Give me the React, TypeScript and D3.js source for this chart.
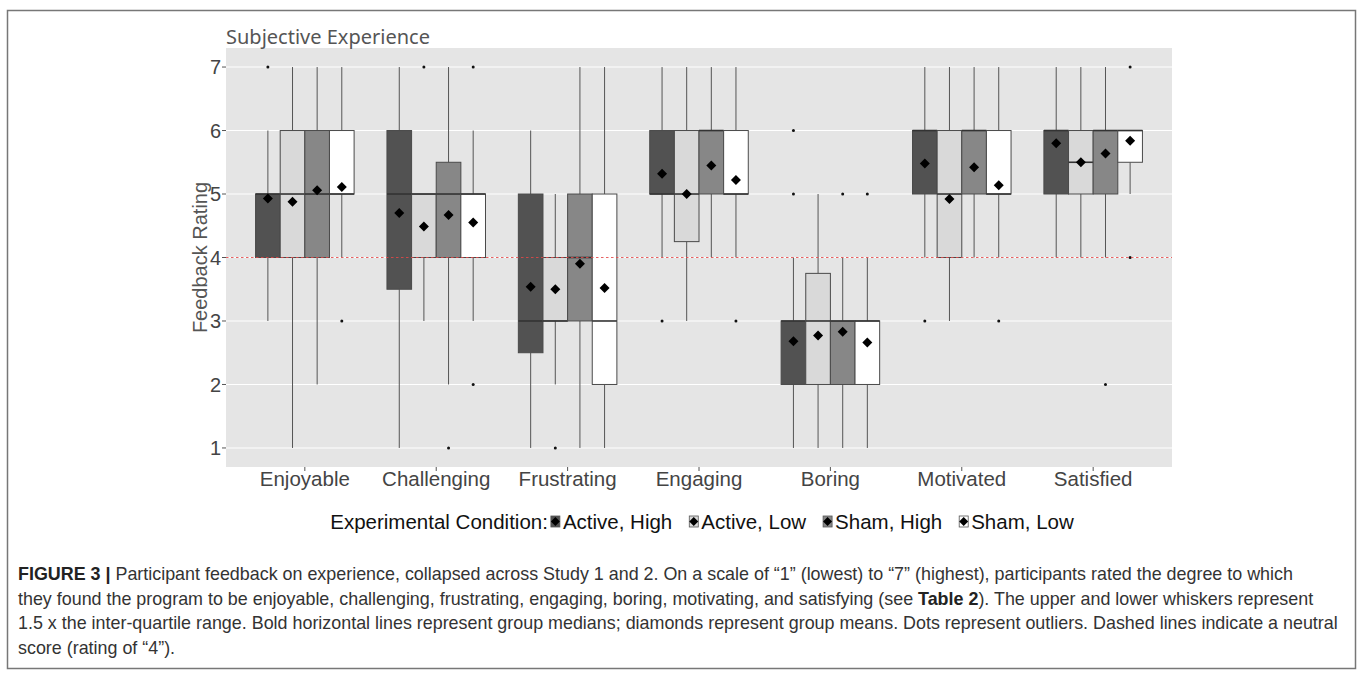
import React from "react";
import * as d3 from "d3";

const categories = ["Enjoyable", "Challenging", "Frustrating", "Engaging", "Boring", "Motivated", "Satisfied"];
const conditions = ["Active, High", "Active, Low", "Sham, High", "Sham, Low"];
const yTicks = [1, 2, 3, 4, 5, 6, 7];
const neutralScore = 4;

// rows = conditions, columns = categories
const whiskerLow = [
  [3, 1, 1, 4, 1, 4, 4],
  [1, 3, 2, 3, 1, 3, 4],
  [2, 2, 1, 4, 1, 4, 4],
  [4, 3, 1, 4, 1, 4, 5],
];
const q1 = [
  [4, 3.5, 2.5, 5, 2, 5, 5],
  [4, 4, 3, 4.25, 2, 4, 5],
  [4, 4, 3, 5, 2, 5, 5],
  [5, 4, 2, 5, 2, 5, 5.5],
];
const medians = [
  [5, 5, 3, 5, 3, 6, 6],
  [5, 5, 3, 5, 3, 5, 5.5],
  [5, 5, 4, 6, 3, 6, 6],
  [5, 5, 3, 5, 3, 5, 6],
];
const q3 = [
  [5, 6, 5, 6, 3, 6, 6],
  [6, 5, 4, 6, 3.75, 6, 6],
  [6, 5.5, 5, 6, 3, 6, 6],
  [6, 5, 5, 6, 3, 6, 6],
];
const whiskerHigh = [
  [6, 7, 6, 7, 4, 7, 7],
  [7, 5, 5, 7, 5, 7, 7],
  [7, 7, 7, 7, 4, 7, 7],
  [7, 6, 7, 7, 4, 7, 6],
];
const means = [
  [4.93, 4.7, 3.54, 5.32, 2.68, 5.48, 5.8],
  [4.88, 4.49, 3.5, 5.0, 2.77, 4.92, 5.5],
  [5.06, 4.67, 3.9, 5.45, 2.83, 5.42, 5.64],
  [5.11, 4.55, 3.52, 5.22, 2.66, 5.14, 5.84],
];
const outliers = [
  [[7], [], [], [3], [5, 6], [3], []],
  [[], [7], [1], [], [], [], []],
  [[], [1], [], [], [5], [], [2]],
  [[3], [2, 7], [], [3], [5], [3], [4, 7]],
];

const fills = ["#525252", "#d9d9d9", "#878787", "#ffffff"];

const captionLines = [
  [
    { t: "FIGURE 3 | ", b: true },
    { t: "Participant feedback on experience, collapsed across Study 1 and 2. On a scale of \u201c1\u201d (lowest) to \u201c7\u201d (highest), participants rated the degree to which", b: false },
  ],
  [
    { t: "they found the program to be enjoyable, challenging, frustrating, engaging, boring, motivating, and satisfying (see ", b: false },
    { t: "Table 2", b: true },
    { t: "). The upper and lower whiskers represent", b: false },
  ],
  [
    { t: "1.5 x the inter-quartile range. Bold horizontal lines represent group medians; diamonds represent group means. Dots represent outliers. Dashed lines indicate a neutral", b: false },
  ],
  [{ t: "score (rating of \u201c4\u201d).", b: false }],
];

const W = 1357;
const H = 677;
const panel = { left: 226, right: 1172, top: 48, bottom: 467 };
const axisFont = "Liberation Sans, Arial, sans-serif";

let ctx: CanvasRenderingContext2D | null = null;
function measure(text: string, font: string): number {
  if (!ctx) ctx = document.createElement("canvas").getContext("2d");
  if (!ctx) return text.length * 10;
  ctx.font = font;
  return ctx.measureText(text).width;
}

function diamond(cx: number, cy: number, r: number) {
  return `M${cx},${cy - r}L${cx + r},${cy}L${cx},${cy + r}L${cx - r},${cy}Z`;
}

export default function App() {
  const x = d3.scalePoint<string>().domain(categories).range([panel.left, panel.right]).padding(0.6);
  const step = x.step();
  const dodge = step * 0.75;
  const xg = d3.scaleBand<string>().domain(conditions).range([-dodge / 2, dodge / 2]);
  const bw = xg.bandwidth();
  const y = d3.scaleLinear().domain([0.7, 7.3]).range([panel.bottom, panel.top]);

  // legend layout
  const legFontSize = 20.5;
  const legFont = `${legFontSize}px Liberation Sans`;
  const legTitle = "Experimental Condition:";
  const keyW = 9;
  const entryGap = 17;
  const titleW = measure(legTitle, legFont);
  const entryW = conditions.map((c) => measure(c, legFont));
  const totalW = titleW + 3 + entryW.reduce((s, w) => s + keyW + 3 + w, 0) + entryGap * (conditions.length - 1);
  const legStart = (panel.left + panel.right) / 2 - totalW / 2 + 3;
  let cursor = legStart + titleW + 3;
  const legItems = conditions.map((c, i) => {
    const item = { keyX: cursor, textX: cursor + keyW + 3, c, i };
    cursor += keyW + 3 + entryW[i] + entryGap;
    return item;
  });
  const legY = 529;

  return (
    <svg width={W} height={H} style={{ position: "absolute", left: 0, top: 0, background: "#fff" }}>
      <rect x={7.5} y={10.5} width={1348} height={658} fill="#fff" stroke="#777" strokeWidth={1.5} />
      {/* panel */}
      <rect x={panel.left} y={panel.top} width={panel.right - panel.left} height={panel.bottom - panel.top} fill="#e5e5e5" />
      {yTicks.map((t) => (
        <line key={"g" + t} x1={panel.left} x2={panel.right} y1={y(t)} y2={y(t)} stroke="#fff" strokeWidth={1.1} />
      ))}
      {/* boxplots */}
      {conditions.map((cond, gi) => (
        <g key={cond}>
          {categories.map((cat, ci) => {
            const cx = (x(cat) as number) + (xg(cond) as number) + bw / 2;
            const x0 = cx - bw / 2;
            return (
              <g key={cat}>
                <line x1={cx} x2={cx} y1={y(q3[gi][ci])} y2={y(whiskerHigh[gi][ci])} stroke="#555" strokeWidth={1} />
                <line x1={cx} x2={cx} y1={y(q1[gi][ci])} y2={y(whiskerLow[gi][ci])} stroke="#555" strokeWidth={1} />
                <rect
                  x={x0}
                  y={y(q3[gi][ci])}
                  width={bw}
                  height={Math.max(0, y(q1[gi][ci]) - y(q3[gi][ci]))}
                  fill={fills[gi]}
                  stroke="#4a4a4a"
                  strokeWidth={1}
                />
                <line x1={x0} x2={x0 + bw} y1={y(medians[gi][ci])} y2={y(medians[gi][ci])} stroke="#333" strokeWidth={1.6} />
                {outliers[gi][ci].map((o, k) => (
                  <circle key={k} cx={cx} cy={y(o)} r={1.5} fill="#111" />
                ))}
              </g>
            );
          })}
        </g>
      ))}
      <line
        x1={panel.left}
        x2={panel.right}
        y1={y(neutralScore)}
        y2={y(neutralScore)}
        stroke="#e34848"
        strokeOpacity={0.85}
        strokeWidth={1}
        strokeDasharray="2.5,2.5"
      />
      {conditions.map((cond, gi) =>
        categories.map((cat, ci) => {
          const cx = (x(cat) as number) + (xg(cond) as number) + bw / 2;
          return <path key={cond + cat} d={diamond(cx, y(means[gi][ci]), 5)} fill="#000" />;
        })
      )}
      {/* y axis */}
      {yTicks.map((t) => (
        <g key={"yt" + t}>
          <line x1={panel.left - 4} x2={panel.left} y1={y(t)} y2={y(t)} stroke="#555" />
          <text
            x={panel.left - 5}
            y={y(t)}
            dy="0.36em"
            textAnchor="end"
            fontFamily={axisFont}
            fontSize={20}
            fill="#444"
          >
            {t}
          </text>
        </g>
      ))}
      <text
        transform={`translate(207,${(panel.top + panel.bottom) / 2}) rotate(-90)`}
        textAnchor="middle"
        fontFamily={axisFont}
        fontSize={20}
        fill="#555"
      >
        Feedback Rating
      </text>
      {/* x axis */}
      {categories.map((cat) => (
        <g key={"xt" + cat}>
          <line x1={x(cat)} x2={x(cat)} y1={panel.bottom} y2={panel.bottom + 4} stroke="#555" />
          <text x={x(cat)} y={486} textAnchor="middle" fontFamily={axisFont} fontSize={20.5} fill="#444">
            {cat}
          </text>
        </g>
      ))}
      {/* title */}
      <text x={panel.left} y={44} fontFamily="Noto Sans, sans-serif" fontSize={20} fill="#555">
        Subjective Experience
      </text>
      {/* legend */}
      <text x={legStart} y={legY} fontFamily={axisFont} fontSize={legFontSize} fill="#111">
        {legTitle}
      </text>
      {legItems.map((it) => (
        <g key={it.c}>
          <rect x={it.keyX} y={legY - 13} width={keyW} height={11} fill={fills[it.i]} stroke="#555" strokeWidth={0.8} />
          <path d={diamond(it.keyX + keyW / 2, legY - 7.5, 4.5)} fill="#000" />
          <text x={it.textX} y={legY} fontFamily={axisFont} fontSize={legFontSize} fill="#111">
            {it.c}
          </text>
        </g>
      ))}
      {/* caption */}
      {captionLines.map((line, li) => (
        <text key={li} x={18} y={580 + li * 24.5} fontFamily={axisFont} fontSize={17.9} fill="#333">
          {line.map((seg, si) => (
            <tspan key={si} fontWeight={seg.b ? "bold" : "normal"} fill={seg.b ? "#222" : "#333"}>
              {seg.t}
            </tspan>
          ))}
        </text>
      ))}
    </svg>
  );
}
